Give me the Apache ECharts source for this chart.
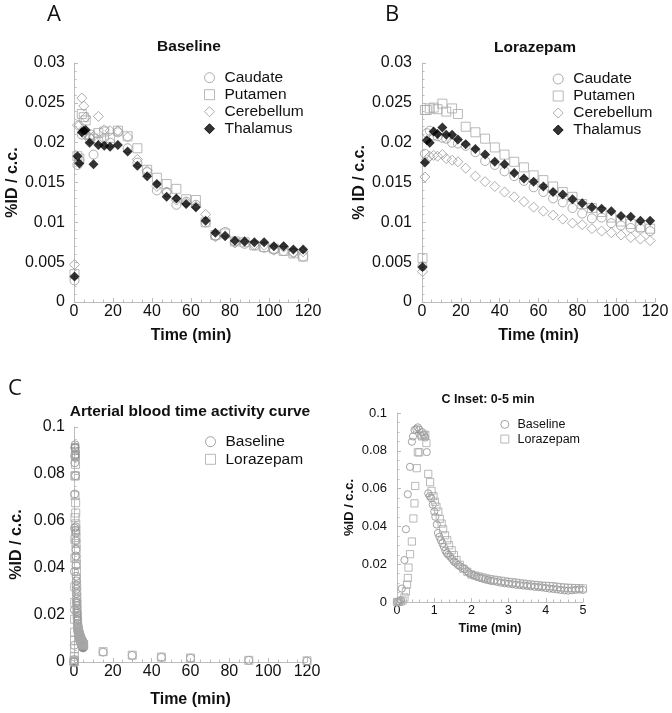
<!DOCTYPE html>
<html><head><meta charset="utf-8">
<script src="https://cdn.jsdelivr.net/npm/echarts@6/dist/echarts.min.js"></script>
<style>html,body{margin:0;padding:0;background:#fff}#c{width:672px;height:713px}</style>
</head><body><div id="c"></div>
<script>
// ---------- Panel A: Baseline ----------
const timeA = [0.25, 1.75, 2.75, 4, 5, 6, 8, 10, 12.5, 15.5, 18.5, 22.5, 27.5, 32.5, 37.5, 42.5, 47.5, 52.5, 57.5, 62.5, 67.5, 72.5, 77.5, 82.5, 87.5, 92.5, 97.5, 102.5, 107.5, 112.5, 117.5];
const caudateA = [0.0027, 0.0172, 0.0178, 0.0210, 0.0213, 0.0210, 0.0205, 0.0185, 0.0203, 0.0206, 0.0200, 0.0213, 0.0193, 0.0175, 0.0163, 0.0140, 0.0138, 0.0122, 0.0126, 0.0122, 0.0100, 0.0083, 0.0088, 0.0076, 0.0073, 0.0071, 0.0068, 0.0066, 0.0064, 0.0062, 0.0057];
const putamenA = [0.0035, 0.0183, 0.0180, 0.0236, 0.0232, 0.0228, 0.0210, 0.0205, 0.0212, 0.0214, 0.0206, 0.0215, 0.0208, 0.0193, 0.0166, 0.0156, 0.0148, 0.0142, 0.0129, 0.0128, 0.0100, 0.0084, 0.0086, 0.0076, 0.0075, 0.0071, 0.0069, 0.0067, 0.0064, 0.0061, 0.0057];
const cerebellumA = [0.0047, 0.0222, 0.0222, 0.0256, 0.0246, 0.0232, 0.0207, 0.0208, 0.0233, 0.0216, 0.0215, 0.0215, 0.0207, 0.0179, 0.0165, 0.0145, 0.0138, 0.0128, 0.0125, 0.0120, 0.0110, 0.0082, 0.0083, 0.0074, 0.0076, 0.0072, 0.0071, 0.0065, 0.0069, 0.0062, 0.0063];
const thalamusA = [0.0032, 0.0183, 0.0174, 0.0213, 0.0215, 0.0216, 0.0200, 0.0173, 0.0197, 0.0196, 0.0195, 0.0197, 0.0189, 0.0171, 0.0158, 0.0148, 0.0132, 0.0130, 0.0123, 0.0119, 0.0102, 0.0087, 0.0083, 0.0077, 0.0076, 0.0075, 0.0075, 0.0070, 0.0070, 0.0066, 0.0066];

// ---------- Panel B: Lorazepam ----------
const timeB = [0.25, 1.5, 2.5, 4, 6, 8, 10.5, 12.5, 15.5, 18.5, 22.5, 27.5, 32.5, 37.5, 42.5, 47.5, 52.5, 57.5, 62.5, 67.5, 72.5, 77.5, 82.5, 87.5, 92.5, 97.5, 102.5, 107.5, 112.5, 117.5];
const caudateB = [0.0045, 0.0186, 0.0212, 0.0215, 0.0209, 0.0208, 0.0206, 0.0205, 0.0200, 0.0199, 0.0196, 0.0188, 0.0177, 0.0172, 0.0164, 0.0158, 0.0152, 0.0144, 0.0138, 0.0130, 0.0125, 0.0118, 0.0111, 0.0105, 0.0106, 0.0099, 0.0096, 0.0093, 0.0092, 0.0089];
const putamenB = [0.0055, 0.0241, 0.0241, 0.0243, 0.0244, 0.0242, 0.0249, 0.0239, 0.0243, 0.0236, 0.0220, 0.0213, 0.0205, 0.0194, 0.0185, 0.0176, 0.0169, 0.0159, 0.0153, 0.0145, 0.0138, 0.0132, 0.0123, 0.0118, 0.0113, 0.0106, 0.0101, 0.0098, 0.0094, 0.0092];
const cerebellumB = [0.0038, 0.0157, 0.0179, 0.0183, 0.0184, 0.0183, 0.0185, 0.0180, 0.0178, 0.0176, 0.0168, 0.0158, 0.0151, 0.0145, 0.0138, 0.0132, 0.0126, 0.0119, 0.0114, 0.0109, 0.0104, 0.0099, 0.0097, 0.0092, 0.0089, 0.0087, 0.0084, 0.0081, 0.0079, 0.0077];
const thalamusB = [0.0044, 0.0175, 0.0203, 0.0200, 0.0214, 0.0211, 0.0219, 0.0210, 0.0210, 0.0204, 0.0198, 0.0192, 0.0185, 0.0176, 0.0173, 0.0162, 0.0155, 0.0151, 0.0145, 0.0138, 0.0135, 0.0129, 0.0124, 0.0119, 0.0117, 0.0114, 0.0108, 0.0107, 0.0102, 0.0102];

// ---------- Panel C: arterial blood (0-5 min) ----------
const bloodTimeBase = [0.00, 0.03, 0.07, 0.10, 0.13, 0.20, 0.24, 0.29, 0.35, 0.40, 0.43, 0.47, 0.52, 0.56, 0.60, 0.64, 0.68, 0.72, 0.76, 0.80, 0.84, 0.88, 0.92, 0.96, 1.00, 1.03, 1.07, 1.10, 1.14, 1.18, 1.22, 1.26, 1.30, 1.34, 1.38, 1.43, 1.48, 1.53, 1.58, 1.64, 1.70, 1.76, 1.82, 1.88, 1.94, 2.00, 2.07, 2.14, 2.21, 2.28, 2.36, 2.44, 2.52, 2.60, 2.70, 2.80, 2.90, 3.00, 3.10, 3.20, 3.30, 3.40, 3.50, 3.60, 3.70, 3.80, 3.90, 4.00, 4.10, 4.20, 4.30, 4.40, 4.50, 4.60, 4.70, 4.80, 4.90, 5.00];
const bloodBase = [0.0000, 0.0002, 0.0000, 0.0010, 0.0071, 0.0222, 0.0385, 0.0570, 0.0715, 0.0848, 0.0876, 0.0910, 0.0915, 0.0924, 0.0912, 0.0880, 0.0898, 0.0885, 0.0870, 0.0793, 0.0575, 0.0560, 0.0549, 0.0515, 0.0478, 0.0451, 0.0410, 0.0365, 0.0345, 0.0327, 0.0310, 0.0292, 0.0272, 0.0258, 0.0250, 0.0240, 0.0228, 0.0214, 0.0207, 0.0196, 0.0188, 0.0180, 0.0175, 0.0163, 0.0152, 0.0147, 0.0140, 0.0134, 0.0129, 0.0125, 0.0120, 0.0116, 0.0112, 0.0110, 0.0106, 0.0102, 0.0099, 0.0097, 0.0094, 0.0091, 0.0089, 0.0087, 0.0085, 0.0083, 0.0080, 0.0079, 0.0077, 0.0074, 0.0071, 0.0069, 0.0067, 0.0064, 0.0062, 0.0060, 0.0062, 0.0064, 0.0066, 0.0064];
const bloodTimeLora = [0.00, 0.05, 0.10, 0.15, 0.20, 0.24, 0.27, 0.29, 0.31, 0.35, 0.40, 0.44, 0.47, 0.49, 0.53, 0.56, 0.60, 0.67, 0.72, 0.76, 0.79, 0.84, 0.89, 0.93, 0.98, 1.02, 1.06, 1.11, 1.15, 1.20, 1.24, 1.29, 1.35, 1.40, 1.47, 1.53, 1.60, 1.69, 1.78, 1.89, 2.00, 2.10, 2.20, 2.30, 2.40, 2.50, 2.60, 2.70, 2.80, 2.90, 3.00, 3.10, 3.20, 3.30, 3.40, 3.50, 3.60, 3.70, 3.80, 3.90, 4.00, 4.10, 4.20, 4.30, 4.40, 4.50, 4.60, 4.70, 4.80, 4.90, 5.00];
const bloodLora = [0.0000, 0.0000, 0.0003, 0.0008, 0.0024, 0.0056, 0.0092, 0.0127, 0.0182, 0.0253, 0.0320, 0.0442, 0.0522, 0.0614, 0.0708, 0.0792, 0.0792, 0.0876, 0.0882, 0.0885, 0.0841, 0.0678, 0.0634, 0.0588, 0.0560, 0.0530, 0.0504, 0.0478, 0.0440, 0.0415, 0.0385, 0.0353, 0.0327, 0.0300, 0.0274, 0.0248, 0.0222, 0.0197, 0.0176, 0.0160, 0.0145, 0.0140, 0.0135, 0.0130, 0.0125, 0.0121, 0.0118, 0.0115, 0.0112, 0.0109, 0.0106, 0.0104, 0.0102, 0.0099, 0.0097, 0.0094, 0.0092, 0.0090, 0.0088, 0.0086, 0.0085, 0.0084, 0.0083, 0.0080, 0.0078, 0.0076, 0.0075, 0.0074, 0.0073, 0.0073, 0.0072];
// late arterial samples (main panel C only)
const lateTime = [15, 30, 45, 60, 90, 120];
const lateBase = [0.0042, 0.0028, 0.0020, 0.0016, 0.0007, 0.0004];
const lateLora = [0.0044, 0.0029, 0.0021, 0.0017, 0.0007, 0.0005];

const regions = ['Caudate', 'Putamen', 'Cerebellum', 'Thalamus'];

const FONT = '"Liberation Sans", Arial, sans-serif';
const AX = '#bdbdbd';
const TXT = '#111';

const pairs = (xs, ys) => xs.map((x, i) => [x, ys[i]]);

function xAxis(grid, max, interval, fs, gap, minorN) {
  return {
    type: 'value', gridIndex: grid, min: 0, max: max, interval: interval,
    name: 'Time (min)', nameLocation: 'middle', nameGap: gap,
    nameTextStyle: { fontFamily: FONT, fontWeight: 'bold', fontSize: fs, color: TXT },
    axisLine: { show: true, lineStyle: { color: AX, width: 1 } },
    axisTick: { show: true, inside: true, length: 4, lineStyle: { color: AX } },
    minorTick: { show: true, splitNumber: minorN, length: 2.5, lineStyle: { color: AX } },
    axisLabel: { fontFamily: FONT, fontSize: fs, color: TXT, margin: 2 },
    splitLine: { show: false }
  };
}
function yAxis(grid, max, interval, name, fs, nfs, gap, offset, minorN) {
  return {
    type: 'value', gridIndex: grid, min: 0, max: max, interval: interval, offset: offset,
    name: name, nameLocation: 'middle', nameGap: gap, nameRotate: 90,
    nameTextStyle: { fontFamily: FONT, fontWeight: 'bold', fontSize: nfs, color: TXT },
    axisLine: { show: true, lineStyle: { color: AX, width: 1 } },
    axisTick: { show: true, inside: true, length: 4, lineStyle: { color: AX } },
    minorTick: { show: true, splitNumber: minorN, length: 2.5, lineStyle: { color: AX } },
    axisLabel: { fontFamily: FONT, fontSize: fs, color: TXT, margin: 6 },
    splitLine: { show: false }
  };
}

const styles = {
  Caudate:    { symbol: 'circle',  size: 9,  itemStyle: { color: 'rgba(255,255,255,0)', borderColor: '#9a9a9a', borderWidth: 1 } },
  Putamen:    { symbol: 'rect',    size: 9,  itemStyle: { color: 'rgba(255,255,255,0)', borderColor: '#a8a8a8', borderWidth: 1 } },
  Cerebellum: { symbol: 'diamond', size: 10, itemStyle: { color: 'rgba(255,255,255,0)', borderColor: '#9a9a9a', borderWidth: 1 } },
  Thalamus:   { symbol: 'diamond', size: 10, itemStyle: { color: '#000', borderColor: '#000', borderWidth: 0 } },
  Baseline:   { symbol: 'circle',  size: 8,  itemStyle: { color: 'rgba(255,255,255,0)', borderColor: '#8c8c8c', borderWidth: 1 } },
  Lorazepam:  { symbol: 'rect',    size: 8,  itemStyle: { color: 'rgba(255,255,255,0)', borderColor: '#a8a8a8', borderWidth: 1 } }
};
function sc(name, grid, data, sizeScale) {
  const s = styles[name];
  return {
    type: 'scatter', name: name, xAxisIndex: grid, yAxisIndex: grid, data: data,
    symbol: s.symbol, symbolSize: s.size * (sizeScale || 1), itemStyle: s.itemStyle,
    clip: false, animation: false, silent: true
  };
}

const seriesA = [pairs(timeA, caudateA), pairs(timeA, putamenA), pairs(timeA, cerebellumA), pairs(timeA, thalamusA)];
const seriesB = [pairs(timeB, caudateB), pairs(timeB, putamenB), pairs(timeB, cerebellumB), pairs(timeB, thalamusB)];

const series = [];
regions.forEach((r, i) => series.push(sc(r, 0, seriesA[i])));
regions.forEach((r, i) => series.push(sc(r, 1, seriesB[i])));
series.push(sc('Baseline', 2, pairs(bloodTimeBase, bloodBase).concat(pairs(lateTime, lateBase))));
series.push(sc('Lorazepam', 2, pairs(bloodTimeLora, bloodLora).concat(pairs(lateTime, lateLora))));
series.push(sc('Baseline', 3, pairs(bloodTimeBase, bloodBase), 0.9));
series.push(sc('Lorazepam', 3, pairs(bloodTimeLora, bloodLora), 0.9));

function legend(left, top, names, fs, lh, isz, padL) {
  return {
    orient: 'vertical', left: left, top: top, padding: 0, itemGap: 0,
    itemWidth: isz, itemHeight: isz, selectedMode: false, data: names,
    itemStyle: { borderWidth: 1 },
    textStyle: { fontFamily: FONT, fontSize: fs, lineHeight: lh, color: TXT, padding: [0, 0, 0, padL] }
  };
}

function label(text, x, y, fs, bold, family) {
  return {
    type: 'text', x: x, y: y, silent: true,
    style: { text: text, fontFamily: family || FONT, fontSize: fs, fontWeight: bold ? 'bold' : 'normal',
             fill: TXT, align: 'center', verticalAlign: 'middle' }
  };
}

const option = {
  backgroundColor: '#fff',
  animation: false,
  grid: [
    { left: 74, top: 63, width: 234, height: 239 },
    { left: 422, top: 63, width: 233, height: 239 },
    { left: 74, top: 427, width: 233, height: 235 },
    { left: 397, top: 413, width: 186, height: 189 }
  ],
  xAxis: [
    xAxis(0, 120, 20, 16, 26, 4),
    xAxis(1, 120, 20, 16, 26, 4),
    xAxis(2, 120, 20, 16, 30, 4),
    xAxis(3, 5, 1, 12.5, 20, 5)
  ],
  yAxis: [
    yAxis(0, 0.03, 0.005, '%ID / c.c.', 16, 16, 46, 3, 5),
    yAxis(1, 0.03, 0.005, '% ID / c.c.', 16, 16, 46, 4, 5),
    yAxis(2, 0.1, 0.02, '%ID / c.c.', 16, 16, 46, 3, 4),
    yAxis(3, 0.1, 0.02, '%ID / c.c.', 13, 13, 37, 4, 4)
  ],
  legend: [
    legend(204, 69.2, regions, 15.5, 17, 10, 5),
    legend(552.7, 70.5, regions, 15.5, 17, 10, 5),
    legend(205, 432.9, ['Baseline', 'Lorazepam'], 15.5, 17.6, 10, 5),
    legend(500.3, 417, ['Baseline', 'Lorazepam'], 12.5, 14.7, 8, 3.7)
  ],
  graphic: [
    label('A', 54, 15, 22, false, '"Open Sans", sans-serif'),
    label('B', 392, 15, 22, false, '"Open Sans", sans-serif'),
    label('C', 15, 389, 22, false, '"Open Sans", sans-serif'),
    label('Baseline', 189, 47, 15.5, true),
    label('Lorazepam', 535, 48, 15.5, true),
    label('Arterial blood time activity curve', 190, 412, 15.5, true),
    label('C Inset: 0-5 min', 488, 400, 12.5, true)
  ],
  series: series
};

const chart = echarts.init(document.getElementById('c'), null, { renderer: 'canvas' });
chart.setOption(option);
</script>
</body></html>
